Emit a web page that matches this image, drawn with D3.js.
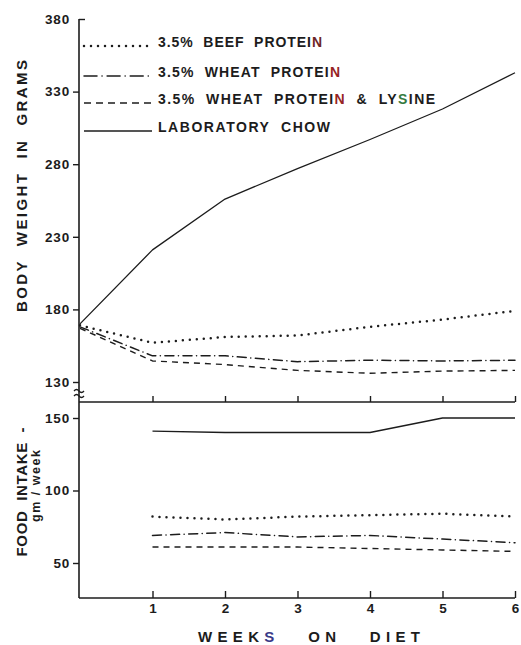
<!DOCTYPE html>
<html>
<head>
<meta charset="utf-8">
<script src="https://cdn.jsdelivr.net/npm/d3@7"></script>
<style>
  html, body { margin: 0; padding: 0; background: #ffffff; }
  svg { display: block; }
  text { font-family: "Liberation Sans", Arial, sans-serif; font-weight: bold; fill: #1c1c1c; white-space: pre; }
</style>
</head>
<body>
<svg id="chart" width="521" height="645"></svg>
<script>
// Weeks on diet
const weeks = [0, 1, 2, 3, 4, 5, 6];
const intakeWeeks = [1, 2, 3, 4, 5, 6];

// Diet groups (legend order)
const diets = ["3.5%  BEEF  PROTEIN", "3.5%  WHEAT  PROTEIN", "3.5%  WHEAT  PROTEIN  &  LYSINE", "LABORATORY  CHOW"];

// Body weight, grams
const weightBeef = [169, 157, 161, 162, 168, 173, 179];
const weightWheat = [168, 148, 148, 144, 145, 144.5, 145];
const weightWheatLysine = [167, 144.5, 142, 138, 136, 137.5, 138];
const weightChow = [170, 221, 256, 277, 297, 318, 343];

// Food intake, gm / week
const intakeBeef = [82, 80, 82, 83, 84, 82];
const intakeWheat = [69, 71, 68, 69, 66.5, 64];
const intakeWheatLysine = [61, 61, 61, 60, 59, 58];
const intakeChow = [141, 140, 140, 140, 150, 150];

// Tick values
const weightTicks = [130, 180, 230, 280, 330, 380];
const intakeTicks = [50, 100, 150];
const weekTicks = [1, 2, 3, 4, 5, 6];

const ink = "#1c1c1c";
const svg = d3.select("#chart");

const x = d3.scaleLinear().domain([0, 6]).range([80, 515]);
const yW = d3.scaleLinear().domain([130, 380]).range([382, 19]);
const yF = d3.scaleLinear().domain([50, 150]).range([563, 418]);
const axisX = 79, dividerY = 402, bottomY = 598;

// line styles per diet: dotted, dash-dot, dashed, solid
const styles = [
  { width: 2.5, dash: "0,7", cap: "round" },
  { width: 1.5, dash: "9,4.5,0.1,4.5", cap: "round" },
  { width: 1.4, dash: "6,5", cap: "butt" },
  { width: 1.3, dash: null, cap: "butt" }
];
const legendDash = ["0,7", "13,5,0.1,5", "7,5", null];

function drawSeries(g, xs, vals, yScale, st) {
  const line = d3.line().x((d, i) => x(xs[i])).y(d => yScale(d));
  g.append("path")
    .attr("d", line(vals))
    .attr("fill", "none")
    .attr("stroke", ink)
    .attr("stroke-width", st.width)
    .attr("stroke-dasharray", st.dash)
    .attr("stroke-linecap", st.cap)
    .attr("stroke-linejoin", "round");
}

// ---- body weight panel ----
const gW = svg.append("g");
[weightBeef, weightWheat, weightWheatLysine, weightChow].forEach((v, i) => drawSeries(gW, weeks, v, yW, styles[i]));

// ---- food intake panel ----
const gF = svg.append("g");
[intakeBeef, intakeWheat, intakeWheatLysine, intakeChow].forEach((v, i) => drawSeries(gF, intakeWeeks, v, yF, styles[i]));

// ---- axes ----
svg.append("line").attr("x1", axisX).attr("x2", axisX).attr("y1", 19).attr("y2", bottomY)
  .attr("stroke", ink).attr("stroke-width", 1.6);

const leftW = svg.append("g").attr("transform", `translate(${axisX},0)`)
  .call(d3.axisLeft(yW).tickValues(weightTicks).tickSize(6).tickPadding(3));
const leftF = svg.append("g").attr("transform", `translate(${axisX},0)`)
  .call(d3.axisLeft(yF).tickValues(intakeTicks).tickSize(6).tickPadding(3));
[leftW, leftF].forEach(g => {
  g.select(".domain").remove();
  g.selectAll(".tick line").attr("stroke", ink).attr("stroke-width", 1.4);
  g.selectAll(".tick text").attr("fill", ink).style("font-size", "13.5px").style("letter-spacing", "0.8px")
    .style("font-family", "'Liberation Sans', Arial, sans-serif");
});
// top tick turns to the right
leftW.selectAll(".tick").filter(d => d === 380).select("line").attr("x2", 6);

const midAxis = svg.append("g").attr("transform", `translate(0,${dividerY})`)
  .call(d3.axisBottom(x).tickValues(weekTicks).tickSize(-6).tickFormat(""));
const botAxis = svg.append("g").attr("transform", `translate(0,${bottomY})`)
  .call(d3.axisBottom(x).tickValues(weekTicks).tickSize(-7).tickPadding(5).tickFormat(d3.format("d")));
[midAxis, botAxis].forEach(g => {
  g.select(".domain").attr("d", `M${axisX},0H${x(6)}`).attr("stroke", ink).attr("stroke-width", 1.6);
  g.selectAll(".tick line").attr("stroke", ink).attr("stroke-width", 1.4);
  g.selectAll(".tick text").attr("fill", ink).style("font-size", "13.5px")
    .style("font-family", "'Liberation Sans', Arial, sans-serif");
});

// axis break marks
[391, 396].forEach(yy => {
  svg.append("path")
    .attr("d", `M${axisX - 5},${yy} q2.5,-3 5,0 t5,0`)
    .attr("fill", "none").attr("stroke", ink).attr("stroke-width", 1.3);
});

// ---- legend ----
const legendY = [47, 77, 104, 132];
const legendWidth = [164, 182, 277, 172];
const letterTint = [
  { 18: "#6e2626" },
  { 19: "#962424" },
  { 19: "#962424", 27: "#357a40" },
  {}
];
diets.forEach((name, i) => {
  svg.append("line")
    .attr("x1", 84).attr("x2", 152)
    .attr("y1", legendY[i] - 1).attr("y2", legendY[i] - 1)
    .attr("stroke", ink)
    .attr("stroke-width", styles[i].width)
    .attr("stroke-dasharray", legendDash[i])
    .attr("stroke-linecap", styles[i].cap);
  const t = svg.append("text")
    .attr("x", 158).attr("y", legendY[i])
    .attr("textLength", legendWidth[i]).attr("lengthAdjust", "spacing")
    .style("font-size", "14px");
  Array.from(name).forEach((ch, k) => {
    t.append("tspan").text(ch).attr("fill", letterTint[i][k] || ink);
  });
});

// ---- axis titles ----
svg.append("text")
  .attr("transform", "translate(22,186) rotate(-90)")
  .attr("text-anchor", "middle").attr("dy", "0.35em")
  .attr("textLength", 252).attr("lengthAdjust", "spacing")
  .style("font-size", "15px")
  .text("BODY  WEIGHT  IN  GRAMS");

svg.append("text")
  .attr("transform", "translate(22,492) rotate(-90)")
  .attr("text-anchor", "middle").attr("dy", "0.35em")
  .attr("textLength", 129).attr("lengthAdjust", "spacing")
  .style("font-size", "15px")
  .text("FOOD  INTAKE  -");

svg.append("text")
  .attr("transform", "translate(36,486) rotate(-90)")
  .attr("text-anchor", "middle").attr("dy", "0.35em")
  .attr("textLength", 72).attr("lengthAdjust", "spacing")
  .style("font-size", "12.5px")
  .text("gm / week");

const xt = svg.append("text")
  .attr("x", 309).attr("y", 642)
  .attr("text-anchor", "middle")
  .attr("textLength", 222).attr("lengthAdjust", "spacing")
  .style("font-size", "15px");
Array.from("WEEKS   ON   DIET").forEach((ch, k) => {
  xt.append("tspan").text(ch).attr("fill", k === 4 ? "#3a3a88" : ink);
});
</script>
</body>
</html>
